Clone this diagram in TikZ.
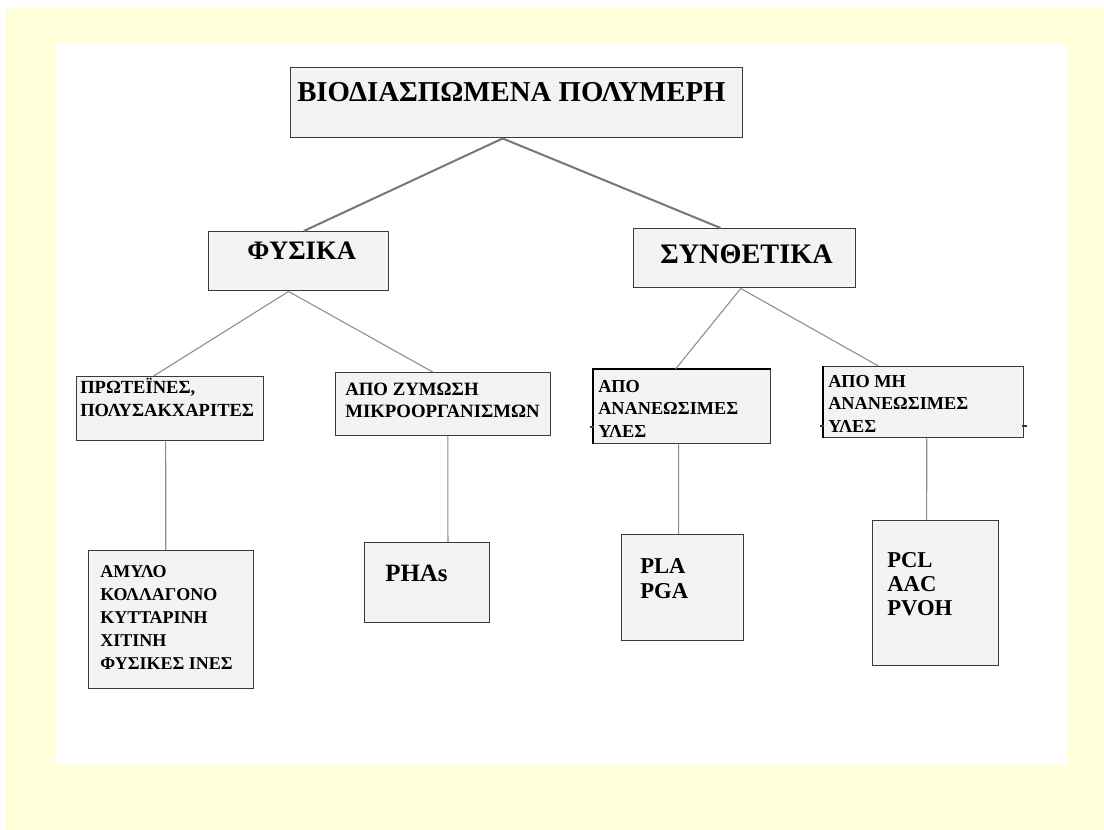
\documentclass[tikz,border=0pt]{standalone}
\usepackage{fontspec}
\setmainfont{Liberation Serif}
\usetikzlibrary{calc}
\definecolor{pagebg}{HTML}{FFFFDA}
\definecolor{boxfill}{HTML}{F3F3F3}
\definecolor{boxline}{HTML}{3A3A3A}
\definecolor{linkgray}{HTML}{8C8C8C}
\tikzset{
  box/.style={draw=boxline, fill=boxfill, line width=1.1pt, anchor=north west, inner sep=0pt},
  lbl/.style={anchor=north west, inner sep=0pt, align=left, font=\bfseries},
  title/.style={anchor=base west, inner sep=0pt},
  link/.style={draw=linkgray, line width=0.8pt},
  trunk/.style={draw=linkgray!85!black, line width=1.5pt},
}
\begin{document}
\begin{tikzpicture}[x=0.75pt,y=-0.75pt]
% page and panel
\fill[white] (0,0) rectangle (1104,830);
\fill[pagebg] (6,8) rectangle (1104,830);
\fill[white] (56,44) rectangle (1067,765);

% boxes
\node[box, minimum width=339pt,   minimum height=52.5pt]  (top)  at (290,67)  {};
\node[box, minimum width=135pt,   minimum height=44.25pt] (fys)  at (208,231) {};
\node[box, minimum width=166.5pt, minimum height=44.25pt] (syn)  at (633,228) {};
\node[box, minimum width=140.25pt,minimum height=48pt]    (prot) at (76,376)  {};
\node[box, minimum width=161.25pt,minimum height=47.25pt] (zym)  at (335,372) {};
\node[box, minimum width=132.75pt,minimum height=55.5pt]  (anan) at (593,369) {};
\node[box, minimum width=150pt,   minimum height=53.25pt] (mh)   at (823,366) {};
\node[box, minimum width=123.75pt,minimum height=103.5pt] (amy)  at (88,550)  {};
\node[box, minimum width=93.75pt, minimum height=60pt]    (pha)  at (364,542) {};
\node[box, minimum width=91.5pt,  minimum height=79.5pt]  (pla)  at (621,534) {};
\node[box, minimum width=94.5pt,  minimum height=108.75pt](pcl)  at (872,520) {};

% darker edges and small ticks on the two right-hand boxes
\draw[black, line width=1.6pt] (anan.south west) -- (anan.north west) -- (anan.north east);
\draw[black, line width=1.6pt] (mh.south west) -- (mh.north west);
\draw[boxline, line width=1pt] (590,427) -- (594,427);
\draw[boxline, line width=1pt] (820,426) -- (824,426);
\draw[boxline, line width=1pt] (1022,426) -- (1027,426);

% labels
\node[title, font=\bfseries\fontsize{21.6}{24}\selectfont] (ttop) at (297,102) {ΒΙΟΔΙΑΣΠΩΜΕΝΑ ΠΟΛΥΜΕΡΗ};
\node[title, font=\bfseries\fontsize{20}{22}\selectfont] (tfys) at (247,260) {ΦΥΣΙΚΑ};
\node[title, font=\bfseries\fontsize{21.2}{24}\selectfont] (tsyn) at (660,264) {ΣΥΝΘΕΤΙΚΑ};
\node[lbl, font=\bfseries\fontsize{13.9}{17.25}\selectfont] (tprot) at (80,378) {ΠΡΩΤΕΪΝΕΣ,\\ΠΟΛΥΣΑΚΧΑΡΙΤΕΣ};
\node[lbl, font=\bfseries\fontsize{14.1}{16.5}\selectfont] (tzym) at (345,383) {ΑΠΟ ΖΥΜΩΣΗ\\ΜΙΚΡΟΟΡΓΑΝΙΣΜΩΝ};
\node[lbl, font=\bfseries\fontsize{13.7}{16.9}\selectfont] (tanan) at (598,380) {ΑΠΟ\\ΑΝΑΝΕΩΣΙΜΕΣ\\ΥΛΕΣ};
\node[lbl, font=\bfseries\fontsize{13.7}{16.9}\selectfont] (tmh) at (828,375) {ΑΠΟ ΜΗ\\ΑΝΑΝΕΩΣΙΜΕΣ\\ΥΛΕΣ};
\node[lbl, font=\bfseries\fontsize{13.5}{17.25}\selectfont] (tamy) at (100,565) {ΑΜΥΛΟ\\ΚΟΛΛΑΓΟΝΟ\\ΚΥΤΤΑΡΙΝΗ\\ΧΙΤΙΝΗ\\ΦΥΣΙΚΕΣ ΙΝΕΣ};
\node[title, font=\bfseries\fontsize{18.7}{21}\selectfont] (tpha) at (385,581) {PHAs};
\node[lbl, font=\bfseries\fontsize{17}{18.75}\selectfont] (tpla) at (640,558) {PLA\\PGA};
\node[lbl, font=\bfseries\fontsize{17}{18}\selectfont] (tpcl) at (887,552) {PCL\\AAC\\PVOH};

% connectors
\draw[trunk] ($(top.south west)!0.469!(top.south east)$) -- ($(fys.north west)!0.528!(fys.north east)$);
\draw[trunk] ($(top.south west)!0.469!(top.south east)$) -- ($(syn.north west)!0.392!(syn.north east)$);
\draw[link] ($(fys.south west)!0.444!(fys.south east)$) -- ($(prot.north west)!0.412!(prot.north east)$);
\draw[link] ($(fys.south west)!0.444!(fys.south east)$) -- ($(zym.north west)!0.451!(zym.north east)$);
\draw[link] ($(syn.south west)!0.482!(syn.south east)$) -- ($(anan.north west)!0.463!(anan.north east)$);
\draw[link] ($(syn.south west)!0.482!(syn.south east)$) -- ($(mh.north west)!0.275!(mh.north east)$);
\draw[link] ($(prot.south west)!0.476!(prot.south east)$) -- ($(amy.north west)!0.467!(amy.north east)$);
\draw[link] ($(zym.south west)!0.521!(zym.south east)$) -- ($(pha.north west)!0.664!(pha.north east)$);
\draw[link] ($(anan.south west)!0.480!(anan.south east)$) -- ($(pla.north west)!0.467!(pla.north east)$);
\draw[link] ($(mh.south west)!0.515!(mh.south east)$) -- ($(pcl.north west)!0.429!(pcl.north east)$);
\end{tikzpicture}
\end{document}
